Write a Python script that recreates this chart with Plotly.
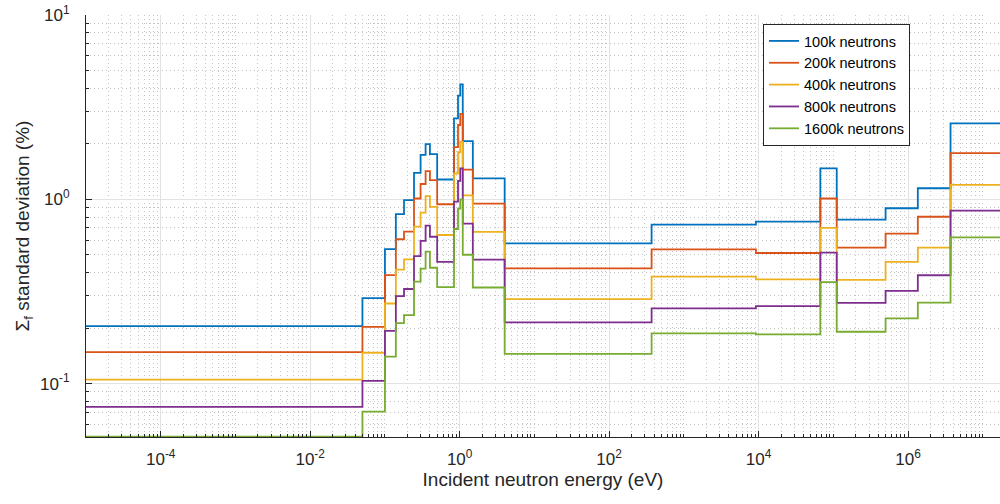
import numpy as np
import plotly.graph_objects as go

# Energy group boundaries (eV)
energy_bounds = [1e-5, 0.05, 0.1, 0.14, 0.18, 0.245, 0.3, 0.35, 0.4, 0.5, 0.84, 0.95,
                 1.02, 1.1, 1.5, 4.0, 370, 9.2e3, 6.7e4, 1.11e5, 5.0e5, 1.35e6, 3.7e6, 2e7]

sd_100k = [0.205, 0.291, 0.537, 0.83, 0.99, 1.39, 1.74, 1.99, 1.76, 1.28, 2.75, 3.65,
           4.2, 2.07, 1.30, 0.576, 0.728, 0.756, 1.47, 0.775, 0.894, 1.148, 2.58]
sd_200k = [0.148, 0.203, 0.388, 0.607, 0.667, 1.01, 1.21, 1.42, 1.27, 0.94, 1.92, 2.53,
           2.91, 1.45, 0.948, 0.422, 0.535, 0.511, 1.01, 0.546, 0.651, 0.804, 1.78]
sd_400k = [0.105, 0.147, 0.272, 0.415, 0.472, 0.71, 0.846, 1.04, 0.91, 0.64, 1.38, 1.80,
           2.05, 1.05, 0.665, 0.287, 0.38, 0.368, 0.70, 0.365, 0.458, 0.546, 1.196]
sd_800k = [0.0747, 0.1035, 0.193, 0.298, 0.326, 0.492, 0.594, 0.719, 0.626, 0.457, 0.97, 1.26,
           1.47, 0.737, 0.47, 0.215, 0.256, 0.263, 0.513, 0.274, 0.318, 0.387, 0.867]
sd_1600k = [0.0515, 0.0705, 0.140, 0.213, 0.235, 0.357, 0.42, 0.52, 0.425, 0.334, 0.69, 0.89,
            1.0, 0.50, 0.332, 0.145, 0.187, 0.185, 0.355, 0.191, 0.226, 0.275, 0.622]

series_names = ["100k neutrons", "200k neutrons", "400k neutrons", "800k neutrons", "1600k neutrons"]
series_values = [sd_100k, sd_200k, sd_400k, sd_800k, sd_1600k]
colors = ["#0072BD", "#D95319", "#EDB120", "#7E2F8E", "#77AC30"]

x_tick_vals = [1e-4, 1e-2, 1e0, 1e2, 1e4, 1e6]
x_tick_text = ["10<sup>-4</sup>", "10<sup>-2</sup>", "10<sup>0</sup>", "10<sup>2</sup>",
               "10<sup>4</sup>", "10<sup>6</sup>"]
y_tick_vals = [1e-1, 1e0, 1e1]
y_tick_text = ["10<sup>-1</sup>", "10<sup>0</sup>", "10<sup>1</sup>"]

fig = go.Figure()
for name, vals, col in zip(series_names, series_values, colors):
    fig.add_trace(go.Scatter(
        x=energy_bounds, y=list(vals) + [vals[-1]],
        mode="lines", line=dict(color=col, width=1.8, shape="hv"),
        name=name,
    ))

axis_col = "#262626"
font_family = "Liberation Sans, Arial, Helvetica, sans-serif"
minor_grid = dict(ticks="inside", ticklen=3, tickcolor=axis_col,
                  showgrid=True, gridcolor="#c4c4c4", griddash="1px,3px", gridwidth=1)

fig.update_layout(
    width=1000, height=504,
    margin=dict(l=86, r=0, t=15, b=67),
    paper_bgcolor="white", plot_bgcolor="white",
    font=dict(family=font_family, color=axis_col, size=17),
    showlegend=True,
    legend=dict(
        x=0.7407, y=0.9787, xanchor="left", yanchor="top",
        bgcolor="white", bordercolor=axis_col, borderwidth=1,
        font=dict(size=14.5, color="black"), itemwidth=30,
        tracegroupgap=0,
    ),
    xaxis=dict(
        type="log", range=[-5, 7.23],
        tickmode="array", tickvals=x_tick_vals, ticktext=x_tick_text,
        showline=True, linecolor=axis_col, linewidth=1, mirror=False,
        ticks="inside", ticklen=6, tickcolor=axis_col, ticklabelstandoff=7,
        showgrid=True, gridcolor="#e2e2e2", gridwidth=1,
        zeroline=False,
        tickfont=dict(size=17, color=axis_col),
        title=dict(text="Incident neutron energy (eV)", font=dict(size=19, color=axis_col), standoff=2),
        minor=dict(dtick="D1", **minor_grid),
    ),
    yaxis=dict(
        type="log", range=[-1.29, 1.0],
        tickmode="array", tickvals=y_tick_vals, ticktext=y_tick_text,
        showline=True, linecolor=axis_col, linewidth=1, mirror=False,
        ticks="inside", ticklen=6, tickcolor=axis_col, ticklabelstandoff=12,
        showgrid=True, gridcolor="#e2e2e2", gridwidth=1,
        zeroline=False,
        tickfont=dict(size=17, color=axis_col),
        title=dict(text="Σ<sub>f</sub> standard deviation (%)", font=dict(size=19, color=axis_col), standoff=5),
        minor=dict(dtick="D1", **minor_grid),
    ),
)

fig.write_html("out.html")
